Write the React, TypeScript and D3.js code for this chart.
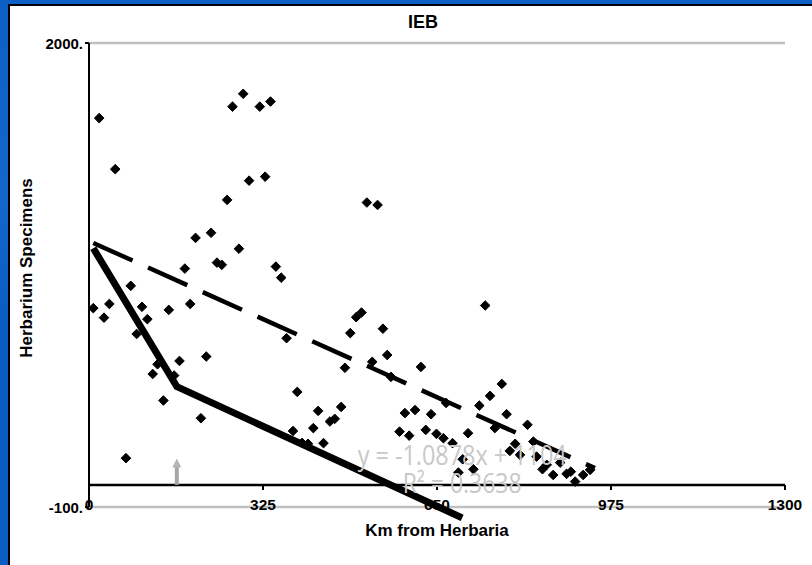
import React from "react";
import * as d3 from "d3";

const W = 812;
const H = 565;

// Scatter data: Km from Herbaria (x) vs Herbarium Specimens (y)
const kmValues = [
  8, 19, 28, 38, 49, 69, 78, 89, 99, 109, 119, 128, 139, 149, 159, 169, 179, 189, 199, 209,
  219, 228, 239, 248, 258, 268, 280, 288, 299, 319, 329, 339, 349, 359, 369, 389, 381, 398,
  409, 419, 428, 438, 450, 459, 471, 478, 488, 499, 509, 519, 539, 529, 549, 557, 564, 580,
  590, 598, 609, 620, 629, 639, 649, 662, 667, 679, 690, 698, 708, 718, 729, 740, 749, 758,
  771, 780, 786, 796, 805, 819, 830, 836, 847, 855, 867, 880, 892, 900, 908, 923, 936,
];
const specimenValues = [
  800, 1660, 757, 819, 1429, 121, 901, 683, 806, 750, 502, 546, 382, 792, 495, 561, 979, 819,
  1118, 302, 581, 1141, 1006, 996, 1290, 1712, 1069, 1770, 1377, 1712, 1395, 1735, 988, 938,
  664, 421, 244, 190, 186, 257, 335, 189, 287, 299, 353, 530, 687, 759, 780, 1278, 1267, 557,
  707, 588, 489, 241, 325, 223, 339, 534, 249, 320, 231, 211, 371, 189, 56, 116, 234, 71, 359,
  812, 403, 257, 457, 320, 154, 186, 136, 272, 196, 128, 71, 91, 45, 101, 50, 60, 15, 45, 68,
];

// Linear trend (dashed) endpoints
const trendX = [8, 945];
const trendY = [1095, 76];

// Hand-drawn solid line
const solidX = [8, 164, 697];
const solidY = [1071, 445, -149];

// Gray arrow
const arrowX = 164;
const arrowY = [0, 120];

const xTicks = [0, 325, 650, 975, 1300];
const xTickLabels = ["0", "325", "650", "975", "1300"];
const yTicks = [2000, -100];
const yTickLabels = ["2000.", "-100."];

const title = "IEB";
const xTitle = "Km from Herbaria";
const yTitle = "Herbarium Specimens";
const eqText = "y = -1.0878x + 1104";
const r2Text = "R² = 0.3638";

export default function App() {
  const x = d3.scaleLinear().domain([0, 1300]).range([89, 785]);
  const y = d3.scaleLinear().domain([-100, 2000]).range([507, 43]);
  const lineGen = d3
    .line<[number, number]>()
    .x((d) => x(d[0]))
    .y((d) => y(d[1]));
  const trend = lineGen(trendX.map((v, i) => [v, trendY[i]] as [number, number]));
  const solid = lineGen(solidX.map((v, i) => [v, solidY[i]] as [number, number]));
  const r = 4.8;
  const diamond = `M0,${-r}L${r},0L0,${r}L${-r},0Z`;
  const font = "'Liberation Sans', Arial, sans-serif";
  const ax = x(arrowX);
  const ay0 = y(arrowY[0]);
  const ay1 = y(arrowY[1]);

  return (
    <svg
      width={W}
      height={H}
      style={{ position: "absolute", left: 0, top: 0, display: "block" }}
      fontFamily={font}
    >
      <defs>
        <linearGradient id="bg" x1="0" y1="0" x2="0" y2="1">
          <stop offset="0" stopColor="#0b5fc6" />
          <stop offset="0.35" stopColor="#1466cc" />
          <stop offset="0.6" stopColor="#0a5bc0" />
          <stop offset="1" stopColor="#0a5dc4" />
        </linearGradient>
      </defs>
      <rect x={0} y={0} width={W} height={H} fill="url(#bg)" />
      <rect x={8} y={4} width={W - 8} height={H - 4} fill="#000" />
      <rect x={10} y={6} width={W - 10} height={H - 6} fill="#fff" />

      {/* gridlines */}
      {yTicks.map((t) => (
        <line key={t} x1={x(0)} x2={x(1300)} y1={y(t)} y2={y(t)} stroke="#c0c0c0" strokeWidth={2.5} />
      ))}

      {/* y axis */}
      <line x1={x(0)} x2={x(0)} y1={y(2000)} y2={y(-100)} stroke="#000" strokeWidth={2} />
      {yTicks.map((t) => (
        <line key={"yt" + t} x1={x(0) - 4} x2={x(0)} y1={y(t)} y2={y(t)} stroke="#000" strokeWidth={2} />
      ))}
      {yTicks.map((t, i) => (
        <text
          key={"yl" + t}
          x={x(0) - 6}
          y={y(t) + 5.5}
          textAnchor="end"
          fontSize={15}
          fontWeight="bold"
        >
          {yTickLabels[i]}
        </text>
      ))}

      {/* x axis at zero */}
      <line x1={x(0)} x2={x(1300)} y1={y(0)} y2={y(0)} stroke="#000" strokeWidth={2.5} />
      {xTicks.map((t) => (
        <line key={"xt" + t} x1={x(t)} x2={x(t)} y1={y(0)} y2={y(0) + 5} stroke="#000" strokeWidth={2} />
      ))}
      {xTicks.map((t, i) => (
        <text key={"xl" + t} x={x(t)} y={510} textAnchor="middle" fontSize={15.5} fontWeight="bold">
          {xTickLabels[i]}
        </text>
      ))}

      {/* gray arrow */}
      <line x1={ax} x2={ax} y1={ay0} y2={ay1 + 7} stroke="#a6a6a6" strokeWidth={4} />
      <path d={`M${ax},${ay1}L${ax + 4.5},${ay1 + 9}L${ax - 4.5},${ay1 + 9}Z`} fill="#b4b4b4" />

      {/* points */}
      {kmValues.map((k, i) => (
        <path
          key={i}
          d={diamond}
          transform={`translate(${x(k)},${y(specimenValues[i])})`}
          fill="#000"
          stroke="#000"
          strokeWidth={1}
          strokeLinejoin="round"
        />
      ))}

      {/* trend (dashed) */}
      <path d={trend ?? ""} fill="none" stroke="#000" strokeWidth={4.5} strokeDasharray="43 17" />
      {/* solid drawn line */}
      <path d={solid ?? ""} fill="none" stroke="#000" strokeWidth={7} strokeLinejoin="miter" />

      {/* equation text */}
      <text
        x={x(697)}
        y={y(90)}
        textAnchor="middle"
        fontSize={27}
        fill="#c8c8c8"
        fontFamily="'Open Sans', 'Liberation Sans', sans-serif"
        textLength={209}
        lengthAdjust="spacingAndGlyphs"
      >
        {eqText}
      </text>
      <text
        x={x(697)}
        y={y(-36)}
        textAnchor="middle"
        fontSize={27}
        fill="#c8c8c8"
        fontFamily="'Open Sans', 'Liberation Sans', sans-serif"
        textLength={119}
        lengthAdjust="spacingAndGlyphs"
      >
        {r2Text}
      </text>

      {/* titles */}
      <text x={423} y={28} textAnchor="middle" fontSize={18} fontWeight="bold">
        {title}
      </text>
      <text x={437} y={536} textAnchor="middle" fontSize={17} fontWeight="bold">
        {xTitle}
      </text>
      <text
        transform={`translate(32,268) rotate(-90)`}
        textAnchor="middle"
        fontSize={17}
        fontWeight="bold"
      >
        {yTitle}
      </text>
    </svg>
  );
}
